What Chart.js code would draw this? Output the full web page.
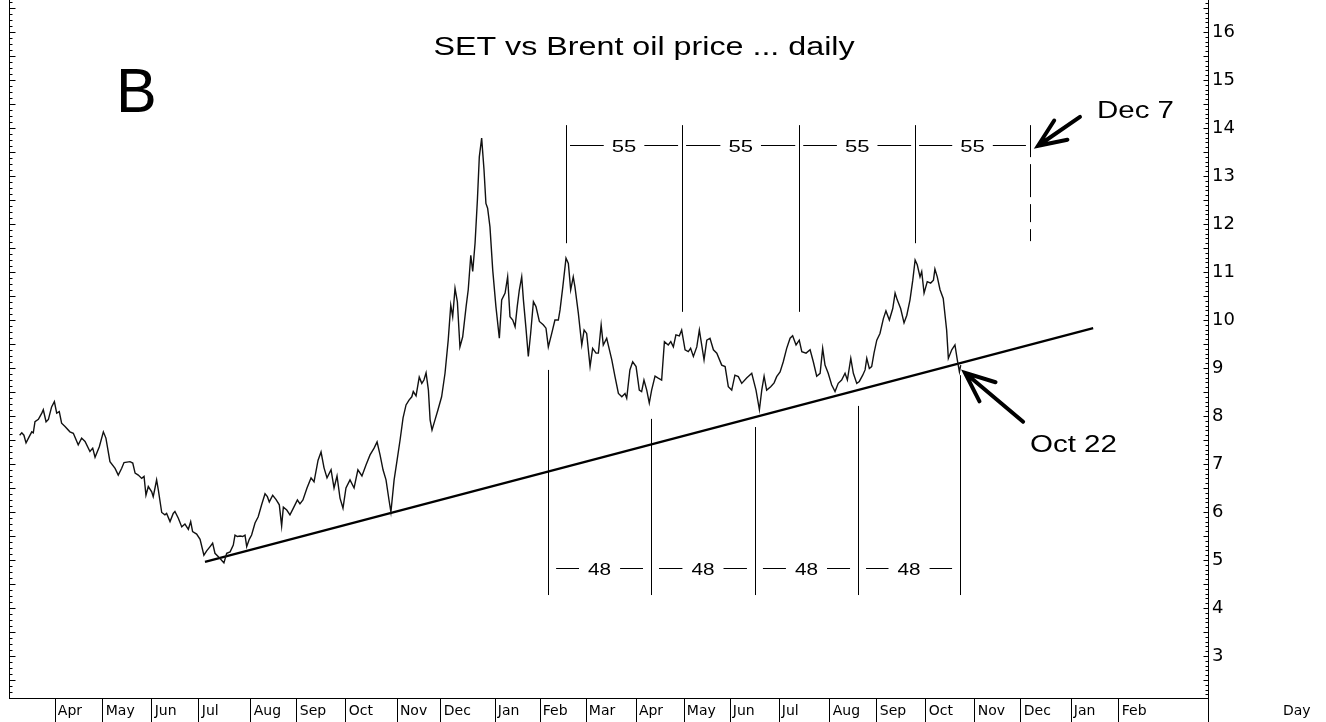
<!DOCTYPE html>
<html>
<head>
<meta charset="utf-8">
<title>SET vs Brent oil price ... daily</title>
<script src="https://cdn.jsdelivr.net/npm/chart.js@4.4.1/dist/chart.umd.min.js"></script>
<style>
  html, body { margin: 0; padding: 0; background: #fff; }
  #wrap { width: 1326px; height: 722px; }
</style>
</head>
<body>
<div id="wrap"><canvas id="setChart" width="1326" height="722"></canvas></div>
<script>
// Price trace: x = trading day counted from the left edge, y = price
const priceDays = [
    5.0, 6.0, 7.0, 8.0, 9.5, 10.7, 11.4, 12.2, 13.8, 15.4, 16.1, 17.4, 18.5, 20.0, 21.3, 22.4, 23.6, 24.7, 26.3, 28.6,
    30.2, 32.5, 34.1, 35.7, 38.0, 39.3, 40.4, 42.4, 44.3, 45.5, 47.4, 49.8, 51.3, 52.9, 54.0, 56.8, 58.1, 59.2, 60.7, 62.3,
    63.4, 64.3, 65.4, 67.0, 67.7, 68.5, 69.3, 70.1, 71.7, 73.2, 74.0, 75.6, 77.1, 77.9, 79.5, 81.1, 82.6, 84.2, 85.3, 86.2,
    88.1, 89.7, 91.5, 92.8, 94.4, 95.6, 96.7, 98.3, 99.9, 100.9, 102.2, 103.8, 105.3, 106.1, 107.2, 108.5, 109.7, 110.8, 111.6, 112.8,
    113.9, 115.5, 117.0, 118.6, 120.2, 121.3, 122.2, 123.8, 125.4, 126.9, 128.0, 128.8, 130.4, 131.9, 133.5, 135.4, 136.6,
    138.0, 139.9, 141.8, 143.2, 145.1, 146.5, 147.9, 149.3, 151.2, 152.6, 154.0, 155.4, 156.8, 158.2, 160.1, 162.0,
    163.8, 165.7, 167.6, 169.5, 171.4, 172.8, 174.2, 175.6, 177.0, 178.4, 179.3, 180.8, 182.2, 183.6, 185.0, 186.4, 187.8,
    189.1, 189.8, 191.1, 192.6, 193.8, 194.8, 195.8, 196.9, 197.7, 198.6, 200.0, 201.4, 203.1, 204.7, 206.2, 207.4,
    208.3, 209.4, 210.5, 211.7, 213.0, 214.6, 215.6, 216.8, 217.7, 218.8, 219.9, 220.8, 221.9, 223.0, 223.9, 224.7,
    225.8, 227.1, 228.6, 230.2, 231.3, 232.9, 234.1, 235.2, 236.5, 237.6, 238.6, 239.6, 240.7, 241.5, 242.7, 243.8,
    244.9, 246.2, 247.4, 249.0, 250.8, 252.1, 253.2, 254.8, 256.3, 257.9, 258.7, 260.0, 261.5, 262.6, 263.7, 264.9,
    265.7, 267.3, 268.9, 270.0, 271.2, 272.8, 274.0, 275.6, 276.7, 278.0, 279.0, 280.6, 283.0, 284.5, 286.1, 287.7,
    289.2, 290.0, 291.5, 292.8, 294.4, 295.9, 297.0, 298.1, 299.4, 300.6, 301.7, 303.3, 304.8, 306.4, 307.7, 309.5,
    310.7, 311.9, 313.1, 314.7, 315.8, 317.4, 318.9, 320.0, 321.3, 322.9, 324.1, 325.2, 326.3, 327.6, 329.1, 330.7,
    332.3, 334.6, 336.2, 337.7, 339.3, 340.8, 342.4, 344.0, 346.3, 348.7, 350.7, 352.3, 353.4, 354.5, 355.7, 357.6,
    359.2, 360.4, 362.0, 363.5, 365.1, 366.7, 367.9, 369.5, 371.0, 372.2, 374.2, 376.1, 377.6, 379.2, 380.8, 382.0,
    383.1, 384.6, 386.2, 387.8, 389.3, 390.9, 392.5, 393.6, 395.2, 396.4, 398.0, 399.2, 400.8, 401.9, 402.7, 403.9,
    405.0, 406.1, 407.4, 408.9, 410.5, 411.7, 413.3, 414.9, 416.0, 417.0, 418.6, 420.2, 421.5, 423.0, 424.3, 425.4,
    426.4, 427.7, 428.5, 429.6, 431.1, 432.7, 434.0, 434.7, 435.8, 437.1, 438.6, 440.2, 441.0, 442.6, 444.1, 445.2,
    446.2, 446.8
];
const priceValues = [
    7.60, 7.65, 7.60, 7.44, 7.57, 7.67, 7.65, 7.88, 7.93, 8.06, 8.13, 7.88, 7.93, 8.19, 8.30, 8.06, 8.09, 7.85, 7.78, 7.67,
    7.64, 7.40, 7.54, 7.47, 7.26, 7.33, 7.14, 7.36, 7.67, 7.54, 7.05, 6.91, 6.77, 6.91, 7.03, 7.05, 7.02, 6.81, 6.77, 6.70,
    6.74, 6.35, 6.53, 6.42, 6.32, 6.49, 6.67, 6.46, 5.99, 5.94, 5.97, 5.80, 5.97, 6.01, 5.87, 5.69, 5.75, 5.64, 5.80, 5.59,
    5.54, 5.43, 5.10, 5.19, 5.28, 5.35, 5.14, 5.07, 4.99, 4.94, 5.14, 5.17, 5.31, 5.52, 5.49, 5.50, 5.49, 5.52, 5.28, 5.43,
    5.52, 5.77, 5.90, 6.15, 6.38, 6.32, 6.21, 6.35, 6.26, 6.15, 5.71, 6.10, 6.04, 5.94, 6.08, 6.25, 6.17,
    6.25, 6.50, 6.71, 6.63, 7.08, 7.25, 6.92, 6.71, 6.88, 6.50, 6.75, 6.29, 6.08, 6.50, 6.67, 6.50,
    6.88, 6.75, 6.98, 7.19, 7.33, 7.46, 7.19, 6.88, 6.67, 6.25, 6.00, 6.67, 7.08, 7.50, 7.96, 8.23, 8.33,
    8.40, 8.51, 8.42, 8.81, 8.68, 8.75, 8.90, 8.54, 7.92, 7.71, 7.92, 8.13, 8.40, 8.89, 9.58, 10.31,
    10.07, 10.66, 10.38, 9.44, 9.65, 10.28, 10.63, 11.35, 11.01, 11.60, 12.50, 13.40, 13.79, 13.13, 12.43, 12.33,
    11.94, 11.04, 10.28, 9.62, 10.42, 10.56, 10.90, 10.07, 10.00, 9.86, 10.28, 10.63, 10.90, 10.42, 9.83, 9.24,
    9.72, 10.38, 10.28, 9.97, 9.90, 9.83, 9.44, 9.72, 10.00, 10.00, 10.21, 10.69, 11.29, 11.18, 10.63, 10.90,
    10.69, 10.14, 9.48, 9.79, 9.72, 9.03, 9.41, 9.31, 9.31, 9.90, 9.48, 9.62, 9.17, 8.82, 8.47, 8.40,
    8.47, 8.37, 8.96, 9.13, 9.03, 8.54, 8.51, 8.75, 8.54, 8.27, 8.54, 8.83, 8.79, 8.75, 9.55, 9.48,
    9.55, 9.44, 9.69, 9.67, 9.79, 9.38, 9.34, 9.41, 9.24, 9.44, 9.79, 9.48, 9.17, 9.58, 9.62, 9.38,
    9.31, 9.06, 9.03, 8.61, 8.54, 8.85, 8.82, 8.68, 8.79, 8.89, 8.54, 8.13, 8.54, 8.83, 8.54, 8.61,
    8.69, 8.82, 8.92, 9.13, 9.41, 9.62, 9.67, 9.48, 9.58, 9.34, 9.31, 9.38, 9.13, 8.83, 8.89, 9.41,
    9.06, 8.89, 8.65, 8.51, 8.68, 8.75, 8.89, 8.75, 9.20, 8.89, 8.68, 8.72, 8.85, 8.96, 9.20, 8.99,
    9.03, 9.31, 9.58, 9.72, 10.03, 10.19, 10.00, 10.24, 10.56, 10.42, 10.24, 9.94, 10.10, 10.42, 10.83, 11.25,
    11.15, 10.90, 11.01, 10.56, 10.80, 10.77, 10.83, 11.06, 10.90, 10.63, 10.45, 9.79, 9.20, 9.38, 9.48, 9.17,
    8.92, 9.06
];

// Month axis: names and the trading day each month starts on
const monthNames = ['Apr', 'May', 'Jun', 'Jul', 'Aug', 'Sep', 'Oct', 'Nov', 'Dec', 'Jan', 'Feb', 'Mar',
    'Apr', 'May', 'Jun', 'Jul', 'Aug', 'Sep', 'Oct', 'Nov', 'Dec', 'Jan', 'Feb'];
const monthStartDays = [21.6, 44.1, 67.1, 89.2, 113.6, 135.2, 158.2, 182.2, 202.8, 228.2, 249.3, 270.9,
    294.4, 316.9, 338.5, 361.5, 385.4, 407.5, 430.5, 453.5, 475.1, 498.6, 521.1];
const lastDay = 562.9;

// Price axis
const priceTicks = [3, 4, 5, 6, 7, 8, 9, 10, 11, 12, 13, 14, 15, 16];
const priceMin = 2.125;
const priceMax = 16.667;

// Trend line under the lows
const trendDays = [92, 509];
const trendValues = [4.96, 9.83];

// 55-day cycle of highs and 48-day cycle of lows
const cycle55Days = [261.5, 316.0, 371.0, 425.4, 479.3];
const cycle55Ends = [11.6, 10.17, 10.17, 11.6, 11.6];
const cycle55Top = 14.06;
const cycle55Label = 13.65;
const cycle48Days = [253.1, 301.4, 350.2, 398.6, 446.5];
const cycle48Ends = [8.96, 7.94, 7.77, 8.21, 8.85];
const cycle48Bottom = 4.27;
const cycle48Label = 4.83;

// Arrows: [tail day, tail price, tip day, tip price]
const dec7Arrow = [502.8, 14.23, 483.1, 13.63];
const oct22Arrow = [476.1, 7.88, 448.8, 8.90];

function stretchedText(ctx, text, x, y, size, stretch, align) {
    ctx.save();
    ctx.font = size + 'px "Liberation Sans", Arial, sans-serif';
    ctx.textBaseline = 'alphabetic';
    ctx.textAlign = 'left';
    const w = ctx.measureText(text).width * stretch;
    const left = align === 'center' ? x - w / 2 : x;
    ctx.translate(left, y);
    ctx.scale(stretch, 1);
    ctx.fillStyle = '#000';
    ctx.fillText(text, 0, 0);
    ctx.restore();
    return w;
}

function drawArrow(ctx, x0, y0, x1, y1, len) {
    const a = Math.atan2(y0 - y1, x0 - x1);
    ctx.save();
    ctx.strokeStyle = '#000';
    ctx.lineWidth = 4;
    ctx.lineCap = 'round';
    ctx.beginPath();
    ctx.moveTo(x0, y0);
    ctx.lineTo(x1, y1);
    ctx.moveTo(x1 + len * Math.cos(a + 0.4), y1 + len * Math.sin(a + 0.4));
    ctx.lineTo(x1, y1);
    ctx.lineTo(x1 + len * Math.cos(a - 0.4), y1 + len * Math.sin(a - 0.4));
    ctx.stroke();
    ctx.restore();
}

function vLine(ctx, x, y0, y1) {
    ctx.beginPath();
    ctx.moveTo(x, y0);
    ctx.lineTo(x, y1);
    ctx.stroke();
}

function hLine(ctx, x0, x1, y) {
    ctx.beginPath();
    ctx.moveTo(x0, y);
    ctx.lineTo(x1, y);
    ctx.stroke();
}

// Labels like "— 55 —" between two cycle lines
function cycleLabels(ctx, days, text, yVal, xs, ys, size, stretch, gap, inset) {
    const y = Math.round(ys.getPixelForValue(yVal)) + 0.5;
    for (let i = 0; i < days.length - 1; i++) {
        const a = xs.getPixelForValue(days[i]);
        const b = xs.getPixelForValue(days[i + 1]);
        const mid = (a + b) / 2;
        const w = stretchedText(ctx, text, mid, y + size * 0.36, size, stretch, 'center');
        hLine(ctx, a + inset, mid - w / 2 - gap, y);
        hLine(ctx, mid + w / 2 + gap, b - inset, y);
    }
}

const annotations = {
    id: 'annotations',
    afterDraw(chart) {
        const { ctx, chartArea } = chart;
        const xs = chart.scales.x;
        const ys = chart.scales.y;
        const L = chartArea.left + 0.5;
        const R = Math.round(chartArea.right) + 0.5;
        const B = chartArea.bottom;

        ctx.save();
        ctx.strokeStyle = '#000';
        ctx.lineWidth = 1;

        // left axis with small ticks
        vLine(ctx, L, 0, B);
        for (let v = Math.ceil(priceMin * 8) / 8; v <= priceMax; v += 0.125) {
            const py = Math.round(ys.getPixelForValue(v)) + 0.5;
            const len = Math.abs(v * 2 - Math.round(v * 2)) < 1e-6 ? 6 : 3;
            hLine(ctx, L, L + len, py);
        }

        // right axis runs down through the month row, ticks point inward
        vLine(ctx, R, 0, chart.height);
        for (let v = Math.ceil(priceMin * 10) / 10; v <= priceMax; v += 0.1) {
            const py = Math.round(ys.getPixelForValue(v)) + 0.5;
            const len = Math.abs(v * 2 - Math.round(v * 2)) < 1e-6 ? 5 : 3;
            hLine(ctx, R - len, R, py);
        }

        // 55-day lines on the highs
        const top55 = ys.getPixelForValue(cycle55Top);
        cycle55Days.forEach((d, i) => {
            const px = Math.round(xs.getPixelForValue(d)) + 0.5;
            if (i === cycle55Days.length - 1) {
                ctx.save();
                ctx.setLineDash([32, 7, 33, 7, 18, 7, 12, 40]);
                vLine(ctx, px, top55, ys.getPixelForValue(cycle55Ends[i]));
                ctx.restore();
            } else {
                vLine(ctx, px, top55, ys.getPixelForValue(cycle55Ends[i]));
            }
        });
        cycleLabels(ctx, cycle55Days, '55', cycle55Label, xs, ys, 17, 1.3, 8, 4);

        // 48-day lines on the lows
        const bot48 = ys.getPixelForValue(cycle48Bottom);
        cycle48Days.forEach((d, i) => {
            const px = Math.round(xs.getPixelForValue(d)) + 0.5;
            vLine(ctx, px, ys.getPixelForValue(cycle48Ends[i]), bot48);
        });
        cycleLabels(ctx, cycle48Days, '48', cycle48Label, xs, ys, 17, 1.22, 9, 8);

        // arrows
        drawArrow(ctx, xs.getPixelForValue(dec7Arrow[0]), ys.getPixelForValue(dec7Arrow[1]),
            xs.getPixelForValue(dec7Arrow[2]), ys.getPixelForValue(dec7Arrow[3]), 30);
        drawArrow(ctx, xs.getPixelForValue(oct22Arrow[0]), ys.getPixelForValue(oct22Arrow[1]),
            xs.getPixelForValue(oct22Arrow[2]), ys.getPixelForValue(oct22Arrow[3]), 32);

        // texts
        stretchedText(ctx, 'SET vs Brent oil price ... daily', 644, 55, 25, 1.29, 'center');
        stretchedText(ctx, 'B', 116, 112, 63, 0.97, 'left');
        stretchedText(ctx, 'Dec 7', 1097, 118, 23, 1.28, 'left');
        stretchedText(ctx, 'Oct 22', 1030, 452, 24, 1.23, 'left');

        ctx.font = '14px "DejaVu Sans", sans-serif';
        ctx.fillStyle = '#000';
        ctx.textBaseline = 'middle';
        ctx.fillText('Day', 1283, 711);
        ctx.restore();
    }
};

const ctx = document.getElementById('setChart').getContext('2d');
new Chart(ctx, {
    type: 'line',
    data: {
        datasets: [
            {
                label: 'SET vs Brent',
                data: priceDays.map((d, i) => ({ x: d, y: priceValues[i] })),
                borderColor: '#111',
                borderWidth: 1.4,
                pointRadius: 0,
                tension: 0
            },
            {
                label: 'Trend',
                data: trendDays.map((d, i) => ({ x: d, y: trendValues[i] })),
                borderColor: '#000',
                borderWidth: 2.2,
                pointRadius: 0,
                tension: 0
            }
        ]
    },
    options: {
        responsive: false,
        animation: false,
        events: [],
        layout: { padding: { left: 9, top: 0, right: 0, bottom: 0 } },
        plugins: {
            legend: { display: false },
            tooltip: { enabled: false },
            title: { display: false }
        },
        scales: {
            x: {
                type: 'linear',
                position: 'bottom',
                min: 0,
                max: lastDay,
                afterBuildTicks: axis => { axis.ticks = monthStartDays.map(v => ({ value: v })); },
                afterFit: axis => { axis.height = 24; axis.paddingLeft = 0; axis.paddingRight = 0; },
                ticks: {
                    autoSkip: false,
                    maxRotation: 0,
                    align: 'start',
                    padding: -19,
                    color: '#000',
                    font: { family: 'DejaVu Sans', size: 14 },
                    callback: (v, i) => '\u2009' + monthNames[i]
                },
                grid: { drawOnChartArea: false, drawTicks: true, tickLength: 24, color: '#000', lineWidth: 1 },
                border: { display: true, color: '#000', width: 1 }
            },
            y: {
                type: 'linear',
                position: 'right',
                min: priceMin,
                max: priceMax,
                afterBuildTicks: axis => { axis.ticks = priceTicks.map(v => ({ value: v })); },
                afterFit: axis => { axis.width = 118; axis.paddingTop = 0; axis.paddingBottom = 0; },
                ticks: {
                    autoSkip: false,
                    padding: 4,
                    color: '#000',
                    font: { family: 'DejaVu Sans', size: 18 },
                    callback: v => String(v)
                },
                grid: { display: false, drawTicks: false, tickLength: 0 },
                border: { display: false }
            }
        }
    },
    plugins: [annotations]
});
</script>
</body>
</html>
